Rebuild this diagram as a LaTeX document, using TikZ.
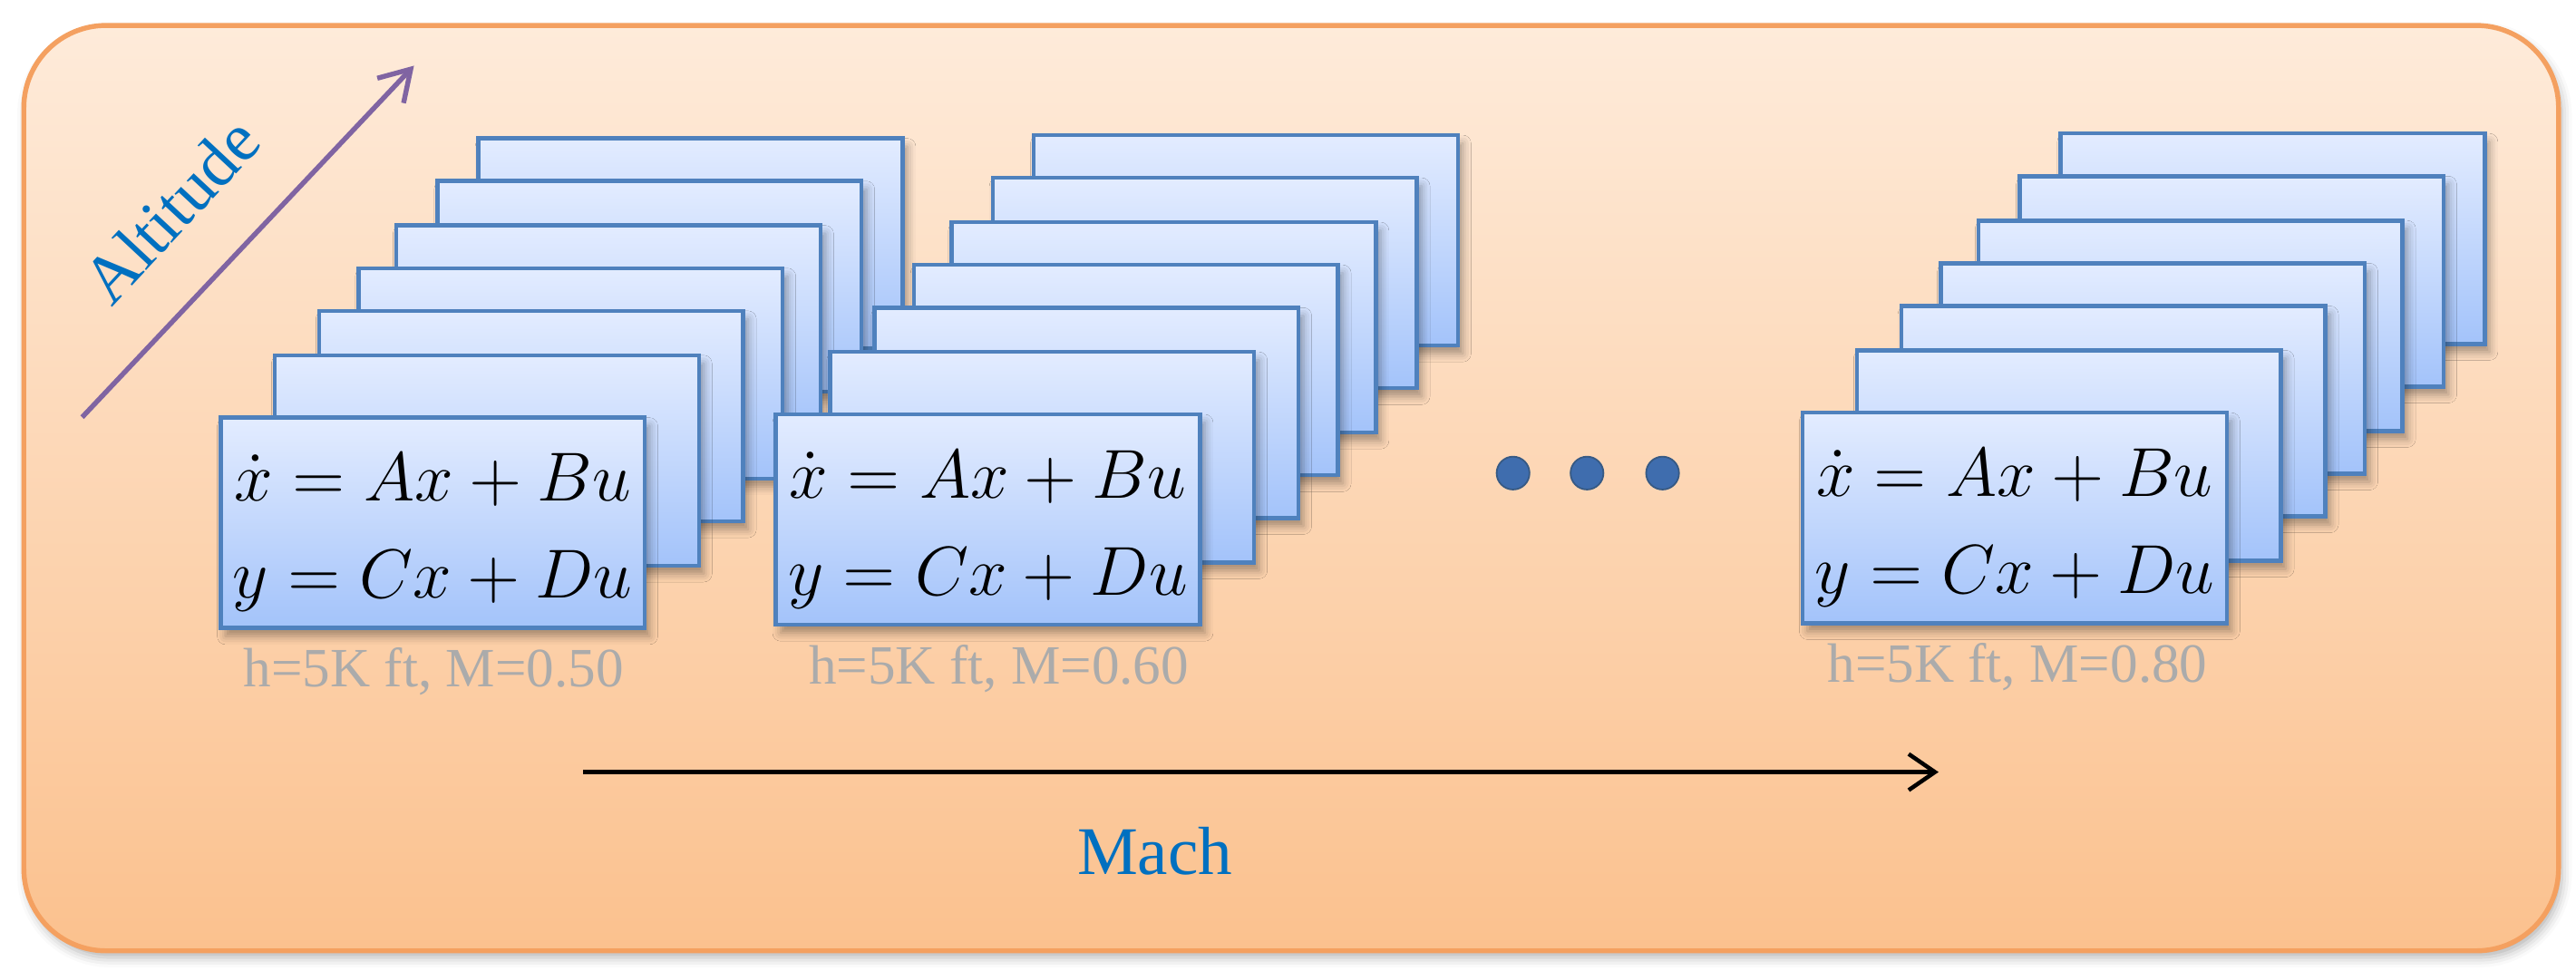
\documentclass[tikz,border=0pt]{standalone}
\usepackage{fontspec}
\setmainfont{Liberation Serif}
\usetikzlibrary{shadows.blur,arrows.meta}
\definecolor{bgtop}{HTML}{FEEBDA}
\definecolor{bgbot}{HTML}{FBC18E}
\definecolor{bgline}{HTML}{F4A060}
\definecolor{boxtop}{HTML}{E3ECFF}
\definecolor{boxbot}{HTML}{A3C3FA}
\definecolor{boxline}{HTML}{4F81BD}
\definecolor{txtblue}{HTML}{0070C0}
\definecolor{altarrow}{HTML}{8064A2}
\definecolor{dotblue}{HTML}{3F6DAE}
\tikzset{
  sbox/.style={draw=boxline, line width=0.025cm, top color=boxtop, bottom color=boxbot,
    minimum width=2.58cm, minimum height=1.28cm, anchor=north west, inner sep=0pt,
    blur shadow={shadow xshift=0.03cm, shadow yshift=-0.05cm, shadow blur radius=0.05cm, shadow opacity=35}},
  eqtext/.style={font=\fontsize{11.5}{14.5}\selectfont, align=center},
  caplabel/.style={font=\fontsize{9.6}{11}\selectfont, text=black!33},
  axlabel/.style={font=\fontsize{11.8}{13}\selectfont, text=txtblue},
  dotnode/.style={circle, fill=dotblue, draw=boxline!70!black, line width=0.01cm, minimum size=0.2cm, inner sep=0pt}
}
\begin{document}
\begin{tikzpicture}[x=0.01cm,y=-0.01cm]
\useasboundingbox (0,0) rectangle (1568,591);
\node[draw=bgline, line width=0.03cm, rounded corners=0.5cm, top color=bgtop, bottom color=bgbot,
  minimum width=15.42cm, minimum height=5.63cm, anchor=north west, inner sep=0pt,
  blur shadow={shadow xshift=0.02cm, shadow yshift=-0.04cm, shadow blur radius=0.06cm, shadow opacity=30}]
  (frame) at (13,14) {};
% altitude arrow
\coordinate (altS) at (50,254);
\coordinate (altE) at (252,40);
\draw[altarrow, line width=0.03cm, -{Straight Barb[length=0.18cm,width=0.22cm]}] (altS) -- (altE);
\node[axlabel, rotate=47] (alt) at (104,128) {Altitude};
% stacks
\foreach \sx/\sy/\st/\lab/\lx in {0/0/a/0.50/264, 338/-2/b/0.60/608, 963/-3/c/0.80/1228}{
  \foreach \bx/\by/\i in {290/83/6, 265/109/5, 240/136/4, 217/162/3, 193/188/2, 166/215/1}{
    \node[sbox] (s\st\i) at (\bx+\sx,\by+\sy) {};
  }
  \node[sbox] (s\st0) at (133+\sx,253+\sy) {};
  \node[eqtext] (eq\st) at ([yshift=-0.06cm]s\st0.center) {$\dot{x} = Ax + Bu$\\[0.08cm]$y = Cx + Du$};
  \node[caplabel] (lab\st) at (\lx,409+\sy) {h=5K ft, M=\lab};
}
% dots
\node[dotnode] (d1) at (921,288) {};
\node[dotnode] (d2) at (966,288) {};
\node[dotnode] (d3) at (1012,288) {};
% mach arrow
\coordinate (machS) at (355,470);
\coordinate (machE) at (1180,470);
\draw[black, line width=0.025cm, -{Straight Barb[length=0.16cm,width=0.22cm]}] (machS) -- (machE);
\node[axlabel] (mach) at (703,518) {Mach};
\end{tikzpicture}
\end{document}
